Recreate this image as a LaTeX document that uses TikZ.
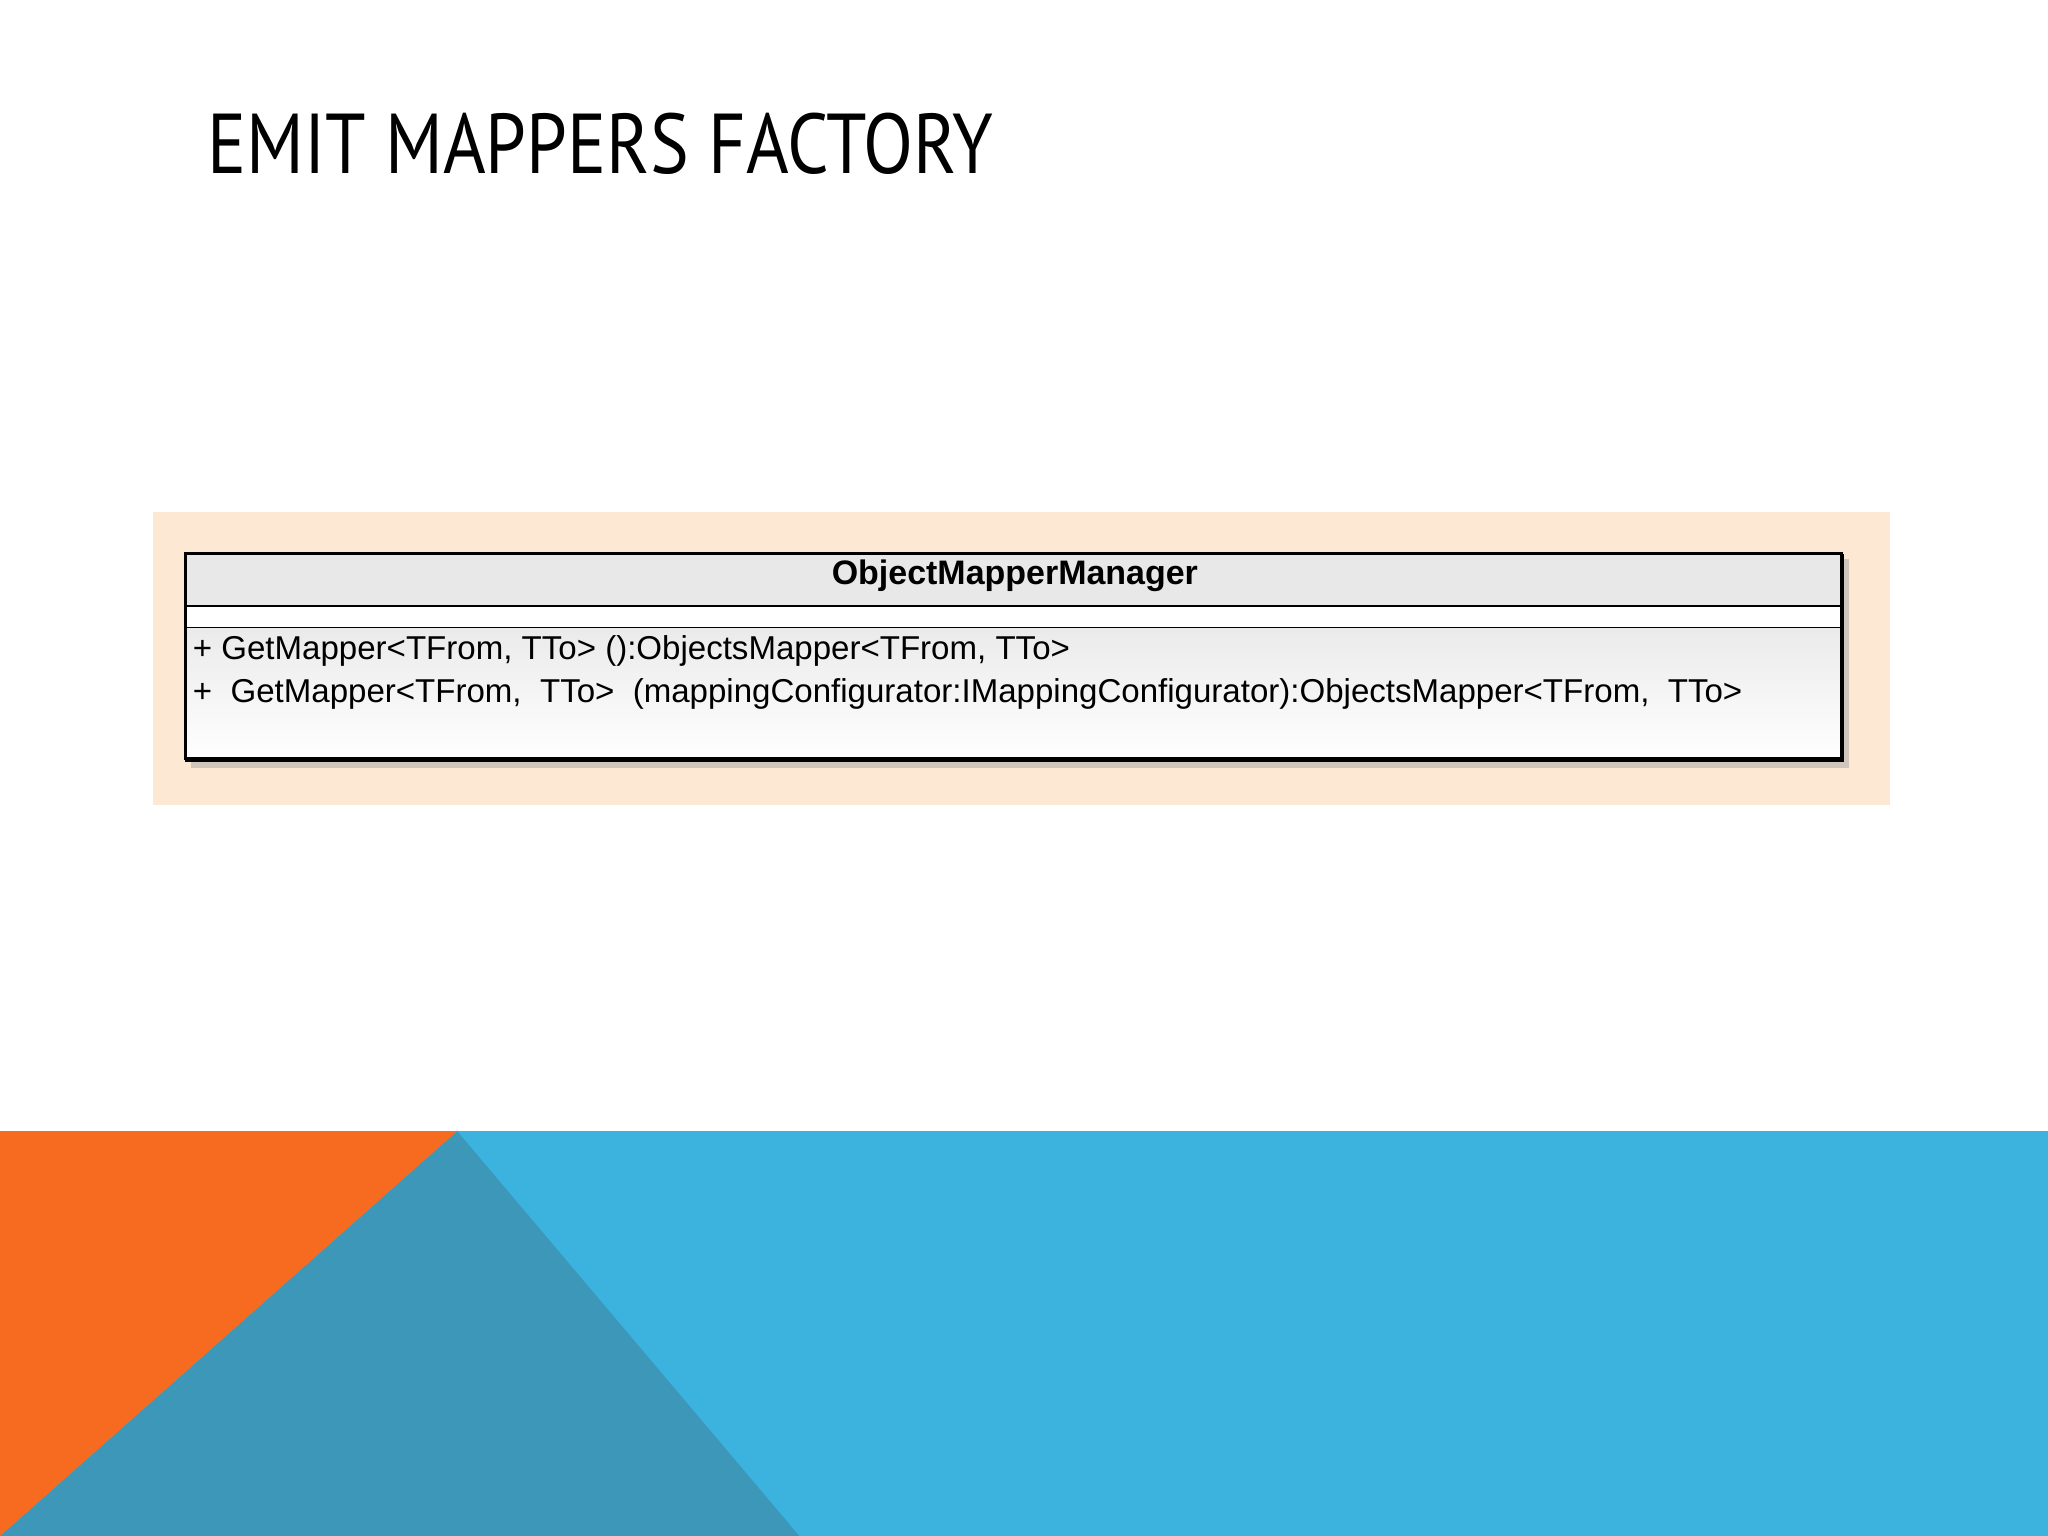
\documentclass[tikz,border=0pt]{standalone}
\usepackage{fontspec}
\setmainfont{Liberation Sans}
\newfontfamily\titlefont{PT Sans}
\usetikzlibrary{shadows,fadings}
\definecolor{orng}{HTML}{F76B20}
\definecolor{blu}{HTML}{3BB3DE}
\definecolor{teal}{HTML}{3D97B8}
\definecolor{peach}{HTML}{FDE8D4}
\begin{document}
\begin{tikzpicture}[x=0.1mm,y=-0.1mm,
  meth/.style={anchor=west,inner sep=0pt,font=\fontsize{7.2pt}{8pt}\selectfont}]
\useasboundingbox (0,0) rectangle (1568,1176);
\fill[white] (0,0) rectangle (1568,1176);
% title
\node[anchor=base west,inner sep=0pt] (title) at (158,133)
  {\titlefont\fontsize{18.5pt}{20pt}\selectfont\scalebox{0.86}[1]{EMIT MAPPERS FACTORY}};
% peach panel
\fill[peach] (117,392) rectangle (1447,616);
\fill[black!35,opacity=0.5] (146,428) rectangle (1416,588);
\node[draw=black,line width=0.6pt,minimum width=126.8mm,minimum height=15.7mm,inner sep=0pt,
  top color=black!10,bottom color=white,anchor=north west] (box) at (142,424) {};
\draw[line width=0.6pt,fill=black!9] (142,424) rectangle (1410,464);
\draw[line width=0.6pt,fill=white] (142,464) rectangle (1410,481);
\shade[top color=black!8,bottom color=white] (142.5,481.5) rectangle (1409.5,580.5);
\draw[line width=0.6pt] (142,424) rectangle (1410,581);
\node[font=\bfseries\fontsize{7.4pt}{8pt}\selectfont,inner sep=0pt] (hdr) at (777,441) {ObjectMapperManager};
\node[meth] (m1) at (147,498) {+ GetMapper<TFrom, TTo> ():ObjectsMapper<TFrom, TTo>};
\node[meth] (m2) at (147,531) {+\ \ GetMapper<TFrom,\ \ TTo>\ \ (mappingConfigurator:IMappingConfigurator):ObjectsMapper<TFrom,\ \ TTo>};
% bottom shapes
\fill[blu] (0,866) rectangle (1568,1176);
\fill[teal] (350,866) -- (612,1176) -- (0,1176) -- cycle;
\fill[orng] (0,866) -- (350,866) -- (0,1176) -- cycle;
\end{tikzpicture}
\end{document}
